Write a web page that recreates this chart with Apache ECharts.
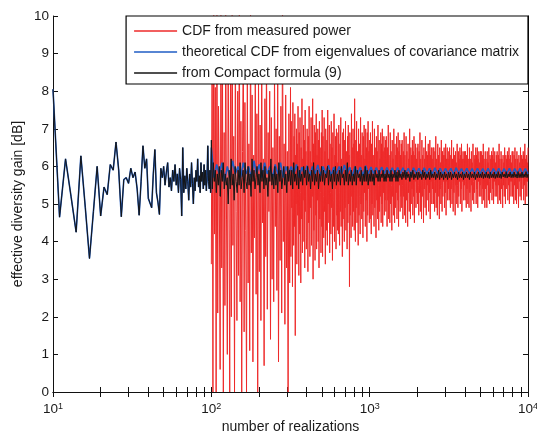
<!DOCTYPE html>
<html>
<head>
<meta charset="utf-8">
<script src="https://cdn.jsdelivr.net/npm/echarts@6/dist/echarts.min.js"></script>
<style>
  html, body { margin: 0; padding: 0; background: #fff; }
  #chart { width: 537px; height: 436px; }
</style>
</head>
<body>
<div id="chart"></div>
<script>
// tick labels / tick positions
const majorTicks = [10, 100, 1000, 10000];
const minorTicks = [20, 30, 40, 50, 60, 70, 80, 90, 200, 300, 400, 500, 600, 700, 800, 900,
  2000, 3000, 4000, 5000, 6000, 7000, 8000, 9000];

// legend names
const names = ["CDF from measured power", "theoretical CDF from eigenvalues of covariance matrix", "from Compact formula (9)"];

// n = 10 .. 99 (one value per realization count), blue and black lie on top of each other here
const lowN = [
  8.05, 4.65, 6.2, 5.2, 4.25, 6.28, 4.9, 3.55, 4.8, 6.0,
  4.68, 5.45, 5.25, 6.05, 5.9, 6.65, 5.9, 4.66, 5.65, 5.7,
  5.55, 5.95, 5.7, 5.85, 5.4, 4.7, 5.6, 6.55, 5.95, 6.2,
  5.15, 5.2, 4.9, 5.8, 6.45, 5.3, 5.05, 4.72, 5.95, 5.7,
  6.0, 5.5, 5.85, 6.1, 5.45, 5.7, 5.35, 5.9, 5.6, 6.05,
  5.5, 5.8, 5.3, 5.95, 5.65, 4.68, 6.5, 5.3, 5.75, 5.4,
  5.95, 5.6, 5.1, 5.8, 5.45, 6.1, 5.55, 5.0, 5.7, 5.35,
  5.9, 5.6, 6.2, 5.45, 5.75, 5.3, 6.1, 5.6, 5.85, 5.4,
  6.05, 5.5, 5.9, 5.35, 5.75, 6.55, 5.6, 5.4, 5.9, 5.3
];

// measured-power curve, n = 100 .. ~316
const redEarly = [
  3.4, 9.8, 0, 11, 4.2, 8.1, 0, 10.5, 2.1, 7.6, 5.2, 0.6, 10.8, 3.3, 8.4, 0, 6.9, 2.3, 10.2, 4.6,
  1.0, 9.1, 5.5, 0, 8.7, 2.0, 11, 3.9, 6.8, 0, 9.4, 4.8, 1.9, 8.0, 3.1, 10.6, 2.4, 7.2, 0, 6.4,
  9.6, 1.6, 7.7, 4.3, 0, 8.9, 2.9, 6.6, 1.1, 10.4, 3.7, 7.9, 0.8, 6.3, 4.1, 9.0, 2.6, 7.4, 0, 8.5,
  3.2, 7.1, 1.9, 8.8, 4.5, 6.2, 0.7, 7.8, 3.6, 9.3, 2.2, 6.9, 4.8, 8.0, 1.4, 7.3, 3.0, 6.5, 2.4, 8.6,
  4.4, 7.0, 2.7, 8.2, 0.8, 6.8, 3.5, 7.6, 2.1, 10.5, 4.0, 6.6, 1.8, 7.9, 3.3, 6.4, 0, 7.4, 2.9, 8.1
];

// measured-power curve, n = ~316 .. 10000
const redLate = [
  3.6, 7.2, 4.9, 6.1, 2.8, 7.7, 5.4, 3.9, 6.8, 4.4, 7.4, 1.5, 6.3, 5.0, 7.0, 3.4, 6.6, 4.7, 7.6, 5.6,
  3.1, 6.9, 4.2, 7.3, 5.3, 2.9, 6.5, 4.6, 7.8, 3.7, 6.2, 5.1, 7.1, 4.0, 6.7, 3.3, 7.5, 4.8, 6.4, 3.8,
  4.1, 7.0, 5.5, 3.2, 6.8, 4.5, 7.6, 5.0, 3.6, 6.4, 4.9, 7.3, 3.9, 6.1, 5.2, 7.8, 3.0, 6.6, 4.3, 7.1,
  5.6, 3.5, 6.9, 4.7, 7.4, 3.8, 6.3, 5.1, 7.0, 4.0, 6.7, 3.3, 7.2, 4.6, 6.5, 5.3, 3.7, 6.9, 4.4, 7.5,
  3.6, 6.8, 5.2, 4.1, 7.3, 4.8, 6.4, 3.4, 7.0, 5.5, 4.3, 6.7, 3.9, 7.5, 5.0, 6.2, 4.5, 7.1, 3.7, 6.6,
  5.3, 4.2, 7.2, 4.9, 6.5, 3.5, 6.9, 5.1, 4.4, 7.4, 4.0, 6.3, 5.4, 6.8, 3.8, 7.0, 4.7, 6.1, 4.3, 6.9,
  4.2, 7.1, 5.3, 3.9, 6.6, 4.8, 7.3, 4.4, 6.2, 5.5, 3.6, 6.9, 4.6, 7.0, 5.1, 4.0, 6.7, 4.9, 7.2, 4.3,
  6.4, 5.6, 3.8, 6.8, 4.5, 7.1, 5.0, 6.3, 2.8, 6.9, 4.7, 5.9, 4.1, 7.4, 5.2, 6.5, 4.4, 7.0, 4.8, 6.6,
  4.3, 7.8, 5.4, 4.0, 6.7, 4.9, 7.2, 4.5, 6.4, 5.7, 3.9, 7.0, 4.7, 6.6, 5.2, 4.2, 7.3, 5.0, 6.3, 4.6,
  6.9, 5.5, 4.1, 6.8, 4.8, 7.1, 5.3, 6.2, 4.4, 7.0, 5.1, 6.5, 4.0, 6.9, 4.7, 7.2, 5.4, 6.4, 4.5, 6.7,
  4.6, 6.9, 5.3, 4.2, 6.6, 5.0, 7.2, 4.7, 6.3, 5.6, 4.4, 7.0, 4.9, 6.5, 5.4, 4.1, 6.8, 5.1, 6.4, 4.6,
  7.1, 5.5, 4.3, 6.7, 4.8, 6.2, 5.2, 6.9, 4.5, 6.6, 5.0, 7.0, 4.4, 6.4, 5.3, 6.8, 4.7, 6.5, 5.1, 6.7,
  4.8, 6.8, 5.4, 4.4, 6.5, 5.1, 7.1, 4.6, 6.3, 5.6, 4.5, 6.9, 5.0, 6.4, 5.5, 4.3, 6.7, 5.2, 6.2, 4.7,
  7.0, 5.4, 4.5, 6.6, 4.9, 6.3, 5.3, 6.8, 4.6, 6.5, 5.1, 6.9, 4.4, 6.4, 5.5, 6.7, 4.8, 6.3, 5.2, 6.6,
  4.9, 6.7, 5.5, 4.6, 6.4, 5.2, 6.9, 4.7, 6.3, 5.7, 4.5, 6.8, 5.1, 6.4, 5.6, 4.4, 6.6, 5.3, 6.2, 4.8,
  7.0, 5.5, 4.6, 6.5, 5.0, 6.3, 5.4, 6.7, 4.7, 6.4, 5.2, 6.8, 4.5, 6.3, 5.6, 6.6, 4.9, 6.2, 5.3, 6.5,
  5.0, 6.6, 5.5, 4.7, 6.4, 5.3, 6.9, 4.8, 6.2, 5.7, 4.6, 6.7, 5.2, 6.3, 5.6, 4.5, 6.5, 5.4, 6.2, 4.9,
  6.8, 5.5, 4.7, 6.4, 5.1, 6.3, 5.5, 6.6, 4.8, 6.4, 5.3, 6.7, 4.6, 6.3, 5.6, 6.5, 5.0, 6.2, 5.4, 6.5,
  5.0, 6.5, 5.6, 4.8, 6.4, 5.3, 6.8, 4.9, 6.2, 5.7, 4.7, 6.6, 5.2, 6.3, 5.6, 4.6, 6.5, 5.4, 6.1, 5.0,
  6.7, 5.5, 4.8, 6.4, 5.2, 6.3, 5.6, 6.5, 4.9, 6.3, 5.3, 6.6, 4.7, 6.2, 5.6, 6.5, 5.1, 6.2, 5.4, 6.4,
  5.1, 6.5, 5.6, 4.9, 6.3, 5.4, 6.7, 5.0, 6.2, 5.7, 4.8, 6.5, 5.3, 6.3, 5.7, 4.7, 6.4, 5.5, 6.1, 5.0,
  6.6, 5.5, 4.9, 6.4, 5.2, 6.2, 5.6, 6.5, 5.0, 6.3, 5.4, 6.6, 4.8, 6.2, 5.6, 6.4, 5.1, 6.2, 5.5, 6.4,
  5.1, 6.4, 5.6, 4.9, 6.3, 5.4, 6.6, 5.0, 6.2, 5.7, 4.9, 6.5, 5.3, 6.2, 5.7, 4.8, 6.4, 5.5, 6.1, 5.1,
  6.6, 5.6, 5.0, 6.3, 5.3, 6.2, 5.7, 6.5, 5.0, 6.3, 5.4, 6.5, 4.9, 6.2, 5.6, 6.4, 5.2, 6.1, 5.5, 6.4,
  5.2, 6.4, 5.7, 5.0, 6.3, 5.4, 6.6, 5.1, 6.2, 5.7, 4.9, 6.4, 5.4, 6.2, 5.7, 4.9, 6.4, 5.5, 6.1, 5.1,
  6.5, 5.6, 5.0, 6.3, 5.3, 6.2, 5.7, 6.4, 5.1, 6.3, 5.4, 6.5, 5.0, 6.2, 5.6, 6.4, 5.2, 6.1, 5.5, 6.3,
  5.2, 6.4, 5.7, 5.0, 6.3, 5.5, 6.6, 5.1, 6.2, 5.7, 5.0, 6.4, 5.4, 6.2, 5.8, 4.9, 6.3, 5.5, 6.1, 5.2,
  6.5, 5.6, 5.0, 6.3, 5.4, 6.2, 5.7, 6.4, 5.1, 6.3, 5.5, 6.5, 5.0, 6.2, 5.6, 6.3, 5.2, 6.1, 5.6, 6.4,
  5.2, 6.4, 5.7, 5.0, 6.3, 5.5, 6.5, 5.1, 6.2, 5.8, 5.0, 6.4, 5.4, 6.2, 5.7, 4.9, 6.3, 5.6, 6.1, 5.2,
  6.5, 5.6, 5.1, 6.3, 5.4, 6.2, 5.7, 6.4, 5.1, 6.3, 5.5, 6.6, 5.0, 6.2, 5.6, 6.3, 5.2, 6.1, 5.6, 6.5
];

// theoretical curve, n = 100 .. 10000
const blueHigh = [
  6.5, 5.7, 6.05, 5.8, 6.1, 5.6,
  6.0, 5.7, 6.15, 5.8, 6.0, 5.7,
  6.1, 5.8, 6.0, 5.7, 6.15, 5.8,
  6.05, 5.7, 6.1, 5.8, 6.0, 5.7,
  6.05, 5.8, 6.1, 5.7, 6.0, 5.8,
  6.0, 5.8, 6.05, 5.7, 5.98, 5.8,
  6.02, 5.75, 6.0, 5.8, 6.04, 5.75,
  6.0, 5.8, 6.03, 5.75, 5.98, 5.8,
  6.0, 5.8, 6.04, 5.8, 5.98, 5.75,
  6.0, 5.8, 5.98, 5.75, 6.02, 5.8,
  5.98, 5.8, 5.97, 5.78, 5.98, 5.8,
  5.97, 5.8, 5.96, 5.78, 5.97, 5.8,
  5.96, 5.8, 5.95, 5.78, 5.96, 5.8,
  5.95, 5.79, 5.96, 5.8, 5.95, 5.78,
  5.96, 5.8, 5.95, 5.79, 5.95, 5.8,
  5.95, 5.79, 5.96, 5.8, 5.94, 5.79,
  5.95, 5.8, 5.94, 5.79, 5.95, 5.8,
  5.94, 5.8, 5.95, 5.79, 5.94, 5.8,
  5.95, 5.79, 5.94, 5.8, 5.95, 5.79,
  5.94, 5.8, 5.95, 5.79, 5.94, 5.8
];

// compact formula curve, n = 100 .. 10000
const blackHigh = [
  6.7, 5.4, 6.1, 5.6, 5.9, 5.3, 5.8, 5.5, 6.0, 5.2, 5.9, 5.6, 6.1, 5.4, 5.8, 5.5,
  5.7, 5.0, 5.9, 5.4, 6.2, 5.5, 5.8, 5.1, 6.0, 5.6, 5.3, 5.9, 5.5, 6.1, 5.4, 5.7,
  5.9, 5.3, 6.1, 5.6, 5.4, 6.0, 5.5, 5.8, 5.2, 6.2, 5.6, 5.9, 5.4, 5.7, 6.0, 5.5,
  5.8, 5.3, 6.1, 5.6, 5.9, 5.4, 6.0, 5.5, 5.7, 5.2, 5.9, 5.6, 6.2, 5.5, 5.8, 5.4,
  6.0, 5.5, 5.8, 5.3, 6.1, 5.6, 5.9, 5.4, 5.7, 6.0, 5.5, 5.8, 5.3, 6.0, 5.6, 5.9,
  5.5, 5.9, 5.4, 6.1, 5.6, 5.8, 5.5, 6.0, 5.4, 5.9, 5.6, 5.8, 5.5, 6.0, 5.7, 5.9,
  5.5, 6.0, 5.6, 5.8, 5.4, 5.9, 5.6, 6.1, 5.5, 5.8, 5.6, 5.9, 5.4, 5.8, 5.6, 6.0,
  5.6, 5.9, 5.5, 5.8, 5.7, 6.0, 5.5, 5.9, 5.6, 5.8, 5.4, 5.9, 5.6, 6.0, 5.5, 5.8,
  5.6, 5.9, 5.5, 6.0, 5.7, 5.8, 5.5, 5.9, 5.6, 6.1, 5.5, 5.8, 5.6, 5.9, 5.5, 5.8,
  5.6, 6.0, 5.5, 5.9, 5.7, 5.8, 5.6, 5.9, 5.5, 5.8, 5.6, 6.0, 5.6, 5.9, 5.5, 5.8,
  5.6, 5.9, 5.6, 5.8, 5.5, 5.9, 5.7, 5.8, 5.6, 5.9, 5.6, 5.8, 5.7, 5.9, 5.6, 5.8,
  5.6, 5.9, 5.7, 5.8, 5.6, 5.9, 5.6, 5.8, 5.7, 5.9, 5.6, 5.85, 5.6, 5.9, 5.7, 5.8,
  5.65, 5.85, 5.7, 5.9, 5.65, 5.85, 5.7, 5.8, 5.6, 5.85, 5.7, 5.9, 5.65, 5.8, 5.7, 5.85,
  5.65, 5.85, 5.7, 5.8, 5.65, 5.9, 5.7, 5.85, 5.65, 5.8, 5.7, 5.85, 5.65, 5.9, 5.7, 5.8,
  5.7, 5.85, 5.65, 5.8, 5.7, 5.9, 5.65, 5.85, 5.7, 5.8, 5.65, 5.85, 5.7, 5.8, 5.65, 5.85,
  5.7, 5.85, 5.65, 5.8, 5.7, 5.85, 5.7, 5.8, 5.65, 5.85, 5.7, 5.8, 5.7, 5.85, 5.65, 5.8,
  5.7, 5.85, 5.7, 5.8, 5.65, 5.85, 5.7, 5.8, 5.7, 5.85, 5.65, 5.8, 5.7, 5.85, 5.7, 5.8,
  5.7, 5.85, 5.68, 5.8, 5.7, 5.85, 5.7, 5.8, 5.68, 5.85, 5.7, 5.8, 5.7, 5.85, 5.68, 5.8,
  5.7, 5.86, 5.7, 5.8, 5.68, 5.85, 5.72, 5.8, 5.7, 5.86, 5.69, 5.8, 5.72, 5.85, 5.7, 5.8,
  5.7, 5.85, 5.71, 5.8, 5.69, 5.86, 5.7, 5.81, 5.7, 5.85, 5.7, 5.8, 5.71, 5.86, 5.7, 5.8
];

// sample positions (realization counts) for the dense part
function logSpaced(from, to, count, skipFirst) {
  const out = [];
  for (let i = 0; i < count; i++) {
    const k = skipFirst ? i + 1 : i;
    const total = skipFirst ? count : count - 1;
    out.push(from * Math.pow(to / from, k / total));
  }
  return out;
}

function pairs(xs, ys) {
  return ys.map((v, i) => [xs[i], v]);
}

const split = 100 * Math.pow(10, 0.5);
const lowX = lowN.map((v, i) => 10 + i);
const lowPart = pairs(lowX, lowN);
const redData = pairs(logSpaced(100, split, redEarly.length), redEarly)
  .concat(pairs(logSpaced(split, 10000, redLate.length, true), redLate));
const blueData = lowPart.concat(pairs(logSpaced(100, 10000, blueHigh.length), blueHigh));
const blackData = lowPart.concat(pairs(logSpaced(100, 10000, blackHigh.length), blackHigh));

const font = "'Liberation Sans', Arial, sans-serif";
const textColor = "#1a1a1a";
const allTicks = majorTicks.concat(minorTicks).sort((a, b) => a - b);

const myChart = echarts.init(document.getElementById("chart"));
const option = {
  animation: false,
  backgroundColor: "#fff",
  textStyle: { fontFamily: font },
  grid: { left: 53, right: 9, top: 16, bottom: 44, containLabel: false, outerBoundsMode: "none" },
  legend: {
    right: 9,
    top: 16,
    orient: "vertical",
    data: names,
    icon: "rect",
    backgroundColor: "#fff",
    borderColor: "#000",
    borderWidth: 1.2,
    padding: [7, 9, 3, 8],
    itemWidth: 43,
    itemHeight: 1.5,
    itemGap: 5,
    textStyle: { fontFamily: font, fontSize: 14, lineHeight: 16, color: textColor },
  },
  xAxis: [
    {
      type: "log",
      logBase: 10,
      min: 10,
      max: 10000,
      position: "bottom",
      name: "number of realizations",
      nameLocation: "middle",
      nameGap: 28,
      nameMoveOverlap: false,
      nameTextStyle: { fontFamily: font, fontSize: 14, color: textColor },
      axisLine: { show: true, lineStyle: { color: "#111", width: 1 } },
      axisTick: { show: true, inside: true, length: 5, customValues: allTicks, lineStyle: { color: "#111" } },
      axisLabel: {
        customValues: majorTicks,
        margin: 10,
        hideOverlap: false,
        formatter: (v) => "{b|10}{e|" + Math.round(Math.log10(v)) + "}",
        rich: {
          b: { fontFamily: font, fontSize: 13.5, color: textColor },
          e: { fontFamily: font, fontSize: 9, color: textColor, verticalAlign: "bottom", padding: [0, 0, 6, 0] },
        },
      },
      splitLine: { show: false },
      minorTick: { show: false },
    },
    {
      type: "log",
      logBase: 10,
      min: 10,
      max: 10000,
      position: "top",
      axisLine: { show: true, lineStyle: { color: "#111", width: 1 } },
      axisTick: { show: true, inside: true, length: 5, customValues: allTicks, lineStyle: { color: "#111" } },
      axisLabel: { show: false },
      splitLine: { show: false },
    },
  ],
  yAxis: [
    {
      type: "value",
      min: 0,
      max: 10,
      interval: 1,
      position: "left",
      name: "effective diversity gain [dB]",
      nameLocation: "middle",
      nameGap: 28,
      nameMoveOverlap: false,
      nameTextStyle: { fontFamily: font, fontSize: 14, color: textColor },
      axisLine: { show: true, lineStyle: { color: "#111", width: 1 } },
      axisTick: { show: true, inside: true, length: 5, lineStyle: { color: "#111" } },
      axisLabel: { margin: 4, fontFamily: font, fontSize: 13.5, color: textColor },
      splitLine: { show: false },
    },
    {
      type: "value",
      min: 0,
      max: 10,
      interval: 1,
      position: "right",
      axisLine: { show: true, lineStyle: { color: "#111", width: 1 } },
      axisTick: { show: true, inside: true, length: 5, lineStyle: { color: "#111" } },
      axisLabel: { show: false },
      splitLine: { show: false },
    },
  ],
  series: [
    {
      name: names[0],
      type: "line",
      data: redData,
      symbol: "none",
      clip: true,
      color: "#ee2a2a",
      lineStyle: { color: "#ee2a2a", width: 1 },
    },
    {
      name: names[1],
      type: "line",
      data: blueData,
      symbol: "none",
      clip: true,
      color: "#1f5cc4",
      lineStyle: { color: "#1f5cc4", width: 1.6 },
    },
    {
      name: names[2],
      type: "line",
      data: blackData,
      symbol: "none",
      clip: true,
      color: "#151515",
      lineStyle: { color: "#151515", width: 1 },
    },
  ],
};
myChart.setOption(option, true);
</script>
</body>
</html>
